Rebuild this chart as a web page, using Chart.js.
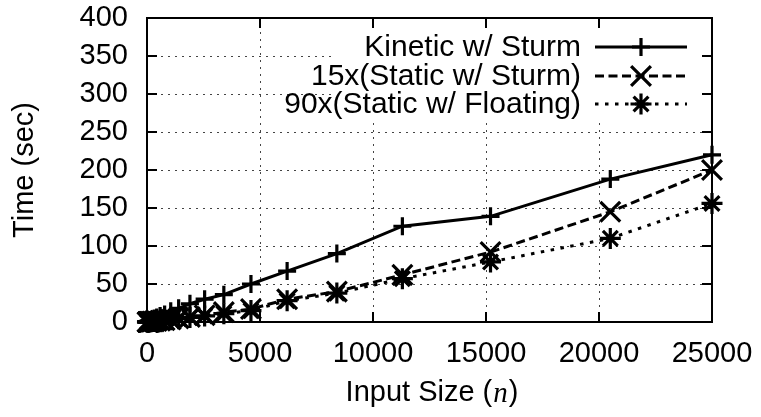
<!DOCTYPE html>
<html>
<head>
<meta charset="utf-8">
<script src="https://cdn.jsdelivr.net/npm/chart.js@4.4.0/dist/chart.umd.min.js"></script>
<style>
  html, body { margin: 0; padding: 0; background: #fff; }
</style>
</head>
<body>
<canvas id="timeChart" width="761" height="417"></canvas>
<script>
// input sizes (n) and running times (sec)
const inputSizes = [20, 30, 40, 55, 75, 100, 130, 180, 240, 320, 430, 580, 780, 1050, 1400, 1900, 2550, 3400, 4600, 6200, 8400, 11300, 15200, 20500, 25000];
const kineticSturm = [0.3, 0.4, 0.6, 0.8, 1, 1.5, 2, 2.5, 3.5, 4.5, 6, 8, 10, 14, 18, 24, 30, 36, 50, 67, 90, 126, 139, 188, 220];
const staticSturm15 = [0.05, 0.08, 0.1, 0.12, 0.15, 0.2, 0.3, 0.4, 0.6, 0.8, 1.2, 1.7, 2.4, 3.4, 4.8, 6.5, 9, 13, 17, 30, 40, 62, 92, 145, 200];
const staticFloat90 = [0.05, 0.07, 0.09, 0.12, 0.16, 0.22, 0.3, 0.45, 0.6, 0.8, 1.1, 1.6, 2.2, 3.1, 4.3, 6, 8, 11, 15, 28, 38, 57, 79, 110, 156];
const seriesLabels = ['Kinetic w/ Sturm', '15x(Static w/ Sturm)', '90x(Static w/ Floating)'];
const xTicks = [0, 5000, 10000, 15000, 20000, 25000];
const yTicks = [0, 50, 100, 150, 200, 250, 300, 350, 400];

const FONT = "'Liberation Sans', Arial, Helvetica, sans-serif";
const FS = 29;
const pointStyles = ['cross', 'crossRot', 'star'];
const pointSizes = [9, 14, 10.5];
const dashes = [[], [9, 4.5], [3.5, 6.5]];

const toPoints = ys => inputSizes.map((x, i) => ({ x, y: ys[i] }));

const datasets = [kineticSturm, staticSturm15, staticFloat90].map((ys, i) => ({
    label: seriesLabels[i],
    data: toPoints(ys),
    borderColor: '#000',
    backgroundColor: '#000',
    borderWidth: 3,
    borderDash: dashes[i],
    borderCapStyle: 'butt',
    pointStyle: pointStyles[i],
    pointRadius: pointSizes[i],
    pointBorderWidth: 3.2,
    pointBorderColor: '#000',
    tension: 0,
    clip: false
}));

function drawMarker(ctx, style, r, x, y) {
    ctx.save();
    ctx.strokeStyle = '#000';
    ctx.lineWidth = 3.2;
    ctx.setLineDash([]);
    ctx.beginPath();
    if (style === 'cross' || style === 'star') {
        ctx.moveTo(x - r, y); ctx.lineTo(x + r, y);
        ctx.moveTo(x, y - r); ctx.lineTo(x, y + r);
    }
    if (style === 'crossRot' || style === 'star') {
        const d = r * Math.SQRT1_2;
        ctx.moveTo(x - d, y - d); ctx.lineTo(x + d, y + d);
        ctx.moveTo(x - d, y + d); ctx.lineTo(x + d, y - d);
    }
    ctx.stroke();
    ctx.restore();
}

const framePlugin = {
    id: 'gnuFrame',
    beforeDatasetsDraw(chart) {
        const { ctx, chartArea: a, scales: { x, y } } = chart;
        ctx.save();
        // dotted grid
        ctx.strokeStyle = '#444';
        ctx.lineWidth = 1;
        ctx.setLineDash([2, 5]);
        ctx.beginPath();
        xTicks.slice(1, -1).forEach(v => {
            const px = Math.round(x.getPixelForValue(v)) + 0.5;
            ctx.moveTo(px, a.top); ctx.lineTo(px, a.bottom);
        });
        yTicks.slice(1, -1).forEach(v => {
            const py = Math.round(y.getPixelForValue(v)) + 0.5;
            ctx.moveTo(a.left, py); ctx.lineTo(a.right, py);
        });
        ctx.stroke();
        ctx.setLineDash([]);
        // opaque key box
        ctx.fillStyle = '#fff';
        ctx.fillRect(335, a.top + 1, a.right - 336, 122 - a.top);
        // frame
        ctx.strokeStyle = '#000';
        ctx.lineWidth = 2;
        ctx.strokeRect(a.left, a.top, a.right - a.left, a.bottom - a.top);
        // inward ticks, mirrored
        const tl = 10;
        ctx.beginPath();
        xTicks.forEach(v => {
            const px = x.getPixelForValue(v);
            ctx.moveTo(px, a.bottom); ctx.lineTo(px, a.bottom - tl);
            ctx.moveTo(px, a.top); ctx.lineTo(px, a.top + tl);
        });
        yTicks.forEach(v => {
            const py = y.getPixelForValue(v);
            ctx.moveTo(a.left, py); ctx.lineTo(a.left + tl, py);
            ctx.moveTo(a.right, py); ctx.lineTo(a.right - tl, py);
        });
        ctx.stroke();
        ctx.restore();
    },
    afterDraw(chart) {
        const { ctx, chartArea: a } = chart;
        ctx.save();
        ctx.fillStyle = '#000';
        // key
        ctx.font = '30px ' + FONT;
        const rows = [47, 76, 104];
        seriesLabels.forEach((lab, i) => {
            const ry = rows[i];
            ctx.textAlign = 'right';
            ctx.textBaseline = 'middle';
            ctx.fillText(lab, 581, ry + 1);
            ctx.strokeStyle = '#000';
            ctx.lineWidth = 3;
            ctx.lineCap = 'butt';
            ctx.setLineDash(dashes[i]);
            ctx.beginPath();
            ctx.moveTo(595, ry); ctx.lineTo(687, ry);
            ctx.stroke();
            ctx.setLineDash([]);
            drawMarker(ctx, pointStyles[i], pointSizes[i], 641, ry);
        });
        ctx.font = FS + 'px ' + FONT;
        // y title
        ctx.save();
        ctx.translate(25, (a.top + a.bottom) / 2);
        ctx.rotate(-Math.PI / 2);
        ctx.textAlign = 'center';
        ctx.textBaseline = 'middle';
        ctx.fillText('Time (sec)', 0, 0);
        ctx.restore();
        // x title with italic n
        const p1 = 'Input Size (', p2 = 'n', p3 = ')';
        const serif = 'italic ' + FS + "px 'Liberation Serif', 'Times New Roman', serif";
        const w1 = ctx.measureText(p1).width, w3 = ctx.measureText(p3).width;
        ctx.font = serif;
        const w2 = ctx.measureText(p2).width;
        let tx = 431 - (w1 + w2 + w3) / 2;
        const ty = 393;
        ctx.textAlign = 'left';
        ctx.textBaseline = 'middle';
        ctx.font = FS + 'px ' + FONT;
        ctx.fillText(p1, tx, ty);
        ctx.font = serif;
        ctx.fillText(p2, tx + w1 + 1, ty + 1);
        ctx.font = FS + 'px ' + FONT;
        ctx.fillText(p3, tx + w1 + w2 + 2, ty);
        ctx.restore();
    }
};

new Chart(document.getElementById('timeChart'), {
    type: 'line',
    data: { datasets },
    options: {
        responsive: false,
        animation: false,
        devicePixelRatio: 1,
        layout: { padding: { top: 18, right: 49, bottom: 0, left: 0 } },
        plugins: { legend: { display: false }, tooltip: { enabled: false } },
        scales: {
            x: {
                type: 'linear', min: 0, max: 25000,
                afterBuildTicks: s => { s.ticks = xTicks.map(v => ({ value: v })); },
                afterFit: s => { s.height = 95; s.paddingLeft = 0; s.paddingRight = 0; },
                ticks: { color: '#000', font: { family: FONT, size: FS }, padding: 15, maxRotation: 0, autoSkip: false, callback: v => String(v) },
                grid: { display: false, drawTicks: false },
                border: { display: false }
            },
            y: {
                min: 0, max: 400,
                afterBuildTicks: s => { s.ticks = yTicks.map(v => ({ value: v })); },
                afterFit: s => { s.width = 147; s.paddingTop = 0; s.paddingBottom = 0; },
                ticks: { color: '#000', font: { family: FONT, size: FS }, padding: 19, autoSkip: false, callback: v => String(v) },
                grid: { display: false, drawTicks: false },
                border: { display: false }
            }
        }
    },
    plugins: [framePlugin]
});
</script>
</body>
</html>
